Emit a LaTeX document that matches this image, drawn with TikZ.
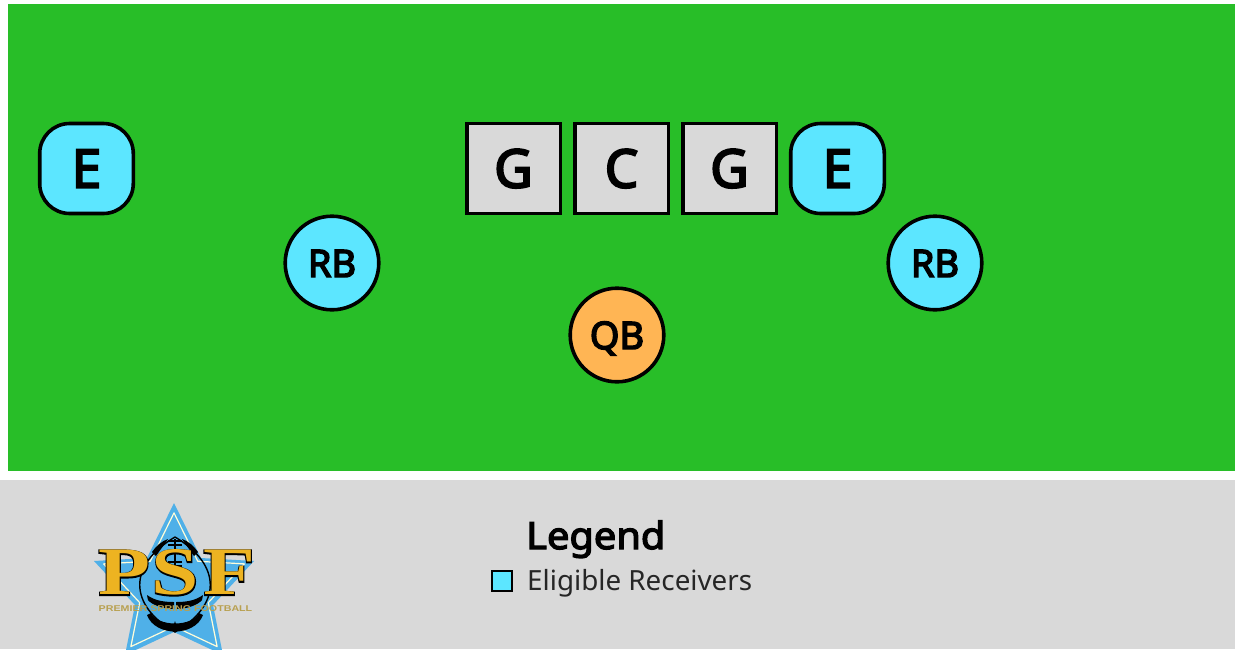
\documentclass[tikz,border=0pt]{standalone}
\usepackage{fontspec}
\setmainfont{Noto Sans}
\newfontfamily\heavy{Noto Sans}[FakeBold=3.6,FakeStretch=1.06]
\newfontfamily\playerfont{Noto Sans}[FakeBold=3.8]
\newfontfamily\tagfont{Liberation Sans Bold}[FakeStretch=1.27]
\newfontfamily\logofont{Liberation Serif Bold}[FakeStretch=1.25]
\newfontfamily\logoback{Liberation Serif Bold}[FakeStretch=1.25,FakeBold=3]
\definecolor{field}{HTML}{28BE28}
\definecolor{panel}{HTML}{D9D9D9}
\definecolor{recv}{HTML}{5CE6FF}
\definecolor{qbc}{HTML}{FFB554}
\definecolor{starblue}{HTML}{4FB0E8}
\definecolor{gold}{HTML}{EDB321}
\definecolor{tagc}{HTML}{B8A050}
\newcommand{\starshape}{(0,-82) -- (27,-27) -- (80,-24) -- (39,20) -- (49,70) -- (0,47) -- (-49,70) -- (-39,20) -- (-80,-24) -- (-27,-27) -- cycle}
\tikzset{
  x=1pt,y=-1pt,
  player/.style={draw=black,line width=3.6pt,inner sep=0pt,text height=38pt,text depth=0pt,font=\playerfont\fontsize{53}{53}\selectfont},
  lineman/.style={player,rectangle,fill=panel,minimum width=93.6pt,minimum height=90pt},
  endman/.style={player,rectangle,rounded corners=30pt,fill=recv,minimum width=93.6pt,minimum height=90pt},
  back/.style={player,circle,minimum size=93.6pt,text height=28pt,font=\playerfont\fontsize{38}{38}\selectfont},
  logoletter/.style={inner sep=0pt,anchor=base,font=\logofont\fontsize{68}{68}\selectfont,text=gold},
  logoshadow/.style={inner sep=0pt,anchor=base,font=\logoback\fontsize{68}{68}\selectfont,text=black},
}
\begin{document}
\begin{tikzpicture}
\useasboundingbox (0,0) rectangle (1235,649);
\clip (0,0) rectangle (1235,649);
\fill[white] (0,0) rectangle (1235,649);
\fill[field] (8,4) rectangle (1235,471);
\fill[panel] (0,480) rectangle (1235,649);

\node[endman] (e1) at (86.5,168.5) {E};
\node[lineman] (g1) at (513.5,168.5) {G};
\node[lineman] (c) at (621.5,168.5) {C};
\node[lineman] (g2) at (729.5,168.5) {G};
\node[endman] (e2) at (837.5,168.5) {E};
\node[back,fill=recv] (rb1) at (332,263) {RB};
\node[back,fill=recv] (rb2) at (935,263) {RB};
\node[back,fill=qbc] (qb) at (617,335) {QB};

% logo: star
\begin{scope}[shift={(174,585)}]
  \fill[starblue,line join=round] \starshape;
  \draw[white!85!yellow,line width=1.2pt,line join=round,scale=.88] \starshape;
\end{scope}
% logo: football
\draw[black,line width=1.4pt] (175,537) .. controls (128,565) and (128,605) .. (175,632)
  .. controls (222,605) and (222,565) .. (175,537);
\fill[black] (152,552) .. controls (156,546) and (162,541) .. (168,539) .. controls (165,544) and (160,550) .. (156,556) -- cycle;
\fill[black] (198,552) .. controls (194,546) and (188,541) .. (182,539) .. controls (185,544) and (190,550) .. (194,556) -- cycle;
\fill[black] (147,595) .. controls (155,601) and (165,602) .. (174,602) -- (174,609) .. controls (163,609) and (152,605) .. (148,600) -- cycle;
\fill[black] (203,595) .. controls (195,601) and (185,602) .. (176,602) -- (176,609) .. controls (187,609) and (198,605) .. (202,600) -- cycle;
\fill[black] (151,613) .. controls (158,627) and (192,627) .. (199,613) -- (203,615) .. controls (195,637) and (155,637) .. (147,615) -- cycle;
\draw[black,line width=1.2pt]
  (168,541) -- (182,541) (168,545) -- (182,545) (168,562) -- (182,562) (168,566) -- (182,566)
  (175,539) -- (175,568);
\fill[black] (175,621) -- (178,630) -- (172,630) -- cycle;
% logo: letters
\node[logoshadow] (ps) at (124,595) {P};
\node[logoshadow] (ss) at (175,595) {S};
\node[logoshadow] (fs) at (229,595) {F};
\node[logoletter] (pl) at (124.5,594) {P};
\node[logoletter] (sl) at (175.5,594) {S};
\node[logoletter] (fl) at (229.5,594) {F};
\node[inner sep=0pt,text=tagc,font=\tagfont\fontsize{8.4}{9}\selectfont] (tag) at (175.5,609) {PREMIER SPRING FOOTBALL};

% legend
\node[anchor=base west,inner sep=0pt,font=\heavy\fontsize{37.5}{38}\selectfont] (lt) at (526,549) {Legend};
\node[draw=black,line width=2.2pt,fill=recv,minimum size=20.5pt,inner sep=0pt] (ls) at (502,581) {};
\node[anchor=base west,inner sep=0pt,text=black!85,font=\fontsize{27.8}{28}\selectfont] (lr) at (527,590) {Eligible Receivers};
\end{tikzpicture}
\end{document}
